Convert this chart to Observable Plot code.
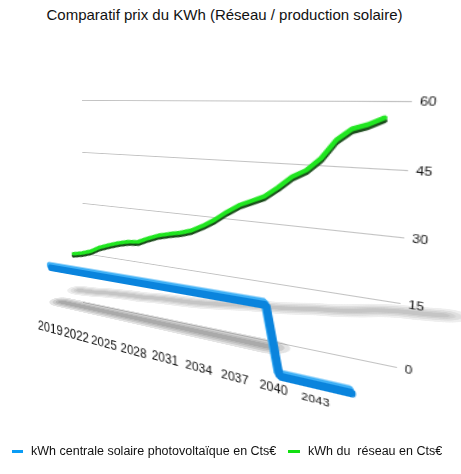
<!DOCTYPE html>
<html>
<head>
<meta charset="utf-8">
<script src="https://cdn.jsdelivr.net/npm/d3@7"></script>
<script src="https://cdn.jsdelivr.net/npm/@observablehq/plot@0.6"></script>
<style>
body { margin: 0; background: #fff; font-family: "Liberation Sans", Arial, sans-serif; }
#stage { position: relative; width: 461px; height: 474px; overflow: hidden; }
.layer { position: absolute; left: 0; top: 0; transform-origin: 0 0; }
#title { position: absolute; top: 6px; left: -6px; width: 461px; text-align: center; font-size: 15px; line-height: 18px; color: #111; }
.sw { position: absolute; top: 450px; height: 3px; }
.lg { position: absolute; top: 444px; font-size: 12.5px; line-height: 15px; color: #111; white-space: pre; }
</style>
</head>
<body>
<div id="stage">
  <div id="title">Comparatif prix du KWh (Réseau / production solaire)</div>
</div>
<script>
const years = [2019, 2020, 2021, 2022, 2023, 2024, 2025, 2026, 2027, 2028, 2029, 2030, 2031, 2032,
  2033, 2034, 2035, 2036, 2037, 2038, 2039, 2040, 2041, 2042, 2043, 2044, 2045];
// kWh centrale solaire photovoltaïque en Cts€
const solaire = [15, 15, 15, 15, 15, 15, 15, 15, 15, 15, 15, 15, 15, 15,
  15, 15, 15, 15, 15, 15, 15, 0, 0, 0, 0, 0, 0];
// kWh du réseau en Cts€
const reseau = [15.3, 16.0, 17.0, 18.6, 19.7, 20.7, 21.5, 21.9, 23.3, 24.5, 25.3, 26.0, 27.0, 28.6,
  30.5, 32.8, 34.8, 36.2, 37.6, 40.0, 42.7, 44.4, 47.3, 51.5, 54.0, 55.0, 56.5];
const yTicks = [0, 15, 30, 45, 60];
const xTicks = [2019, 2022, 2025, 2028, 2031, 2034, 2037, 2040, 2043];
const series = [
  {name: "kWh centrale solaire photovoltaïque en Cts€", color: "#0a84dd", swatch: "#0a9cf5"},
  {name: "kWh du  réseau en Cts€", color: "#20e620", swatch: "#11e011"}
];

const solData = years.map((year, i) => ({year, v: solaire[i], depth: 0.75}));
const resData = years.map((year, i) => ({year, v: reseau[i], depth: 0.25}));

// each flat layer is a normal Plot chart, then put in perspective with a homography
const W = 300, H = 240, M = 40;
const X0 = 2018.5, X1 = 2045.5;
const font = "Liberation Sans, Arial, sans-serif";

// where the corners of each plane land in the picture (the "camera")
const view = {
  wall:   [[82, 100], [412, 101], [397, 367], [83, 302]],
  green:  [[64, 100], [392.8, 100.3], [382.8, 376], [70, 302.7]],
  blue:   [[46, 100], [358, 100], [358, 394], [46, 322]],
  labels: [[45.5, 100], [352, 100], [352, 408], [45.5, 326.5]],
  floor:  [[83, 302], [397, 367], [352, 408], [45.5, 326.5]]
};

function homography(src, dst) {
  const A = [], b = [];
  for (let i = 0; i < 4; i++) {
    const [x, y] = src[i], [X, Y] = dst[i];
    A.push([x, y, 1, 0, 0, 0, -x * X, -y * X]); b.push(X);
    A.push([0, 0, 0, x, y, 1, -x * Y, -y * Y]); b.push(Y);
  }
  for (let c = 0; c < 8; c++) {
    let p = c;
    for (let r = c + 1; r < 8; r++) if (Math.abs(A[r][c]) > Math.abs(A[p][c])) p = r;
    [A[c], A[p]] = [A[p], A[c]]; [b[c], b[p]] = [b[p], b[c]];
    for (let r = 0; r < 8; r++) {
      if (r === c) continue;
      const f = A[r][c] / A[c][c];
      for (let k = c; k < 8; k++) A[r][k] -= f * A[c][k];
      b[r] -= f * b[c];
    }
  }
  const [a, bb, c, d, e, f, g, h] = b.map((v, i) => v / A[i][i]);
  return `matrix3d(${a},${d},0,${g},${bb},${e},0,${h},0,0,1,0,${c},${f},0,1)`;
}

// local size of a layer pixel at a given year on a plane (to keep text size even)
function textScale(plane, year) {
  const hL = plane[3][1] - plane[0][1], hR = plane[2][1] - plane[1][1];
  const f = (year - X0) / (X1 - X0);
  const den = (1 - f) * hR + f * hL;
  const t = f * hL / den;
  const hs = ((plane[1][0] - plane[0][0]) / W) * (hL * hR / (den * den));
  const vs = (hL + (hR - hL) * t) / H;
  return Math.sqrt(hs * vs);
}

const stage = document.getElementById("stage");

function place(chart, corners, yTop, yBot) {
  const sx = chart.scale("x"), sy = chart.scale("y");
  const src = [[sx.apply(X0), sy.apply(yTop)], [sx.apply(X1), sy.apply(yTop)],
               [sx.apply(X1), sy.apply(yBot)], [sx.apply(X0), sy.apply(yBot)]];
  const div = document.createElement("div");
  div.className = "layer";
  div.style.width = (W + 2 * M) + "px";
  div.style.height = (H + 2 * M) + "px";
  div.style.transform = homography(src, corners);
  div.append(chart);
  stage.append(div);
}

function flat(marks, opts = {}) {
  return Plot.plot({
    width: W + 2 * M,
    height: H + 2 * M,
    margin: M,
    x: {domain: [X0, X1], axis: null},
    y: {domain: [0, 60], axis: null},
    style: {background: "transparent", overflow: "visible", fontFamily: font, color: "#111"},
    marks,
    ...opts
  });
}

// back wall: grid + value labels
const wall = flat([
  Plot.ruleY(yTicks, {stroke: "#c2c2c2", strokeWidth: 1.1}),
  Plot.axisY(yTicks, {anchor: "right", tickSize: 0, tickPadding: 5, fontSize: 10, fill: "#111", label: null})
]);
place(wall, view.wall, 60, 0);

// soft shadows cast on the floor (stacked strokes instead of a blur)
const shadowX = d => d.year - 1.5 + (d.year - 2039) * 0.004 * d.v;
const shadowY = d => d.depth - 0.25 - 0.024 * d.v;
const soft = (data, opacity, curve) => [34, 25, 17, 10].map(w =>
  Plot.line(data, {x: shadowX, y: shadowY, stroke: "#555", strokeOpacity: opacity, strokeWidth: w,
    strokeLinecap: "round", strokeLinejoin: "round", curve}));
const floor = flat([
  ...soft(resData, 0.1, "catmull-rom"),
  ...soft(solData.filter(d => d.v > 0), 0.16, "linear")
], {y: {domain: [-1.5, 1], range: [M, M + H], axis: null}});
place(floor, view.floor, 0, 1);

// réseau ribbon
const green = flat([
  Plot.line(resData, {x: "year", y: "v", stroke: "#1a4a1a", strokeWidth: 4, dy: 2.5, strokeLinejoin: "round"}),
  Plot.line(resData, {x: "year", y: "v", stroke: series[1].color, strokeWidth: 4, strokeLinejoin: "round"})
]);
place(green, view.green, 60, 0);

// solaire ribbon
const blue = flat([
  Plot.line(solData, {x: "year", y: "v", stroke: "#3fb0f6", strokeWidth: 7, dx: -1.5, dy: -2.5, strokeLinejoin: "miter"}),
  Plot.line(solData, {x: "year", y: "v", stroke: series[0].color, strokeWidth: 7, strokeLinejoin: "miter"})
]);
place(blue, view.blue, 60, 0);

// year labels along the front edge
const labels = flat([
  Plot.text(xTicks, {x: d => d, y: 0, text: d => String(d), lineAnchor: "middle", fill: "#111",
    fontSize: d => 12.5 / textScale(view.labels, d)})
]);
place(labels, view.labels, 60, 0);

// legend
const lg = [[12, 23, 31], [288, 300, 308]];
series.forEach((s, i) => {
  const sw = document.createElement("div");
  sw.className = "sw";
  sw.style.left = lg[i][0] + "px";
  sw.style.width = (lg[i][1] - lg[i][0]) + "px";
  sw.style.background = s.swatch;
  stage.append(sw);
  const t = document.createElement("div");
  t.className = "lg";
  t.style.left = lg[i][2] + "px";
  t.textContent = s.name;
  stage.append(t);
});
</script>
</body>
</html>
